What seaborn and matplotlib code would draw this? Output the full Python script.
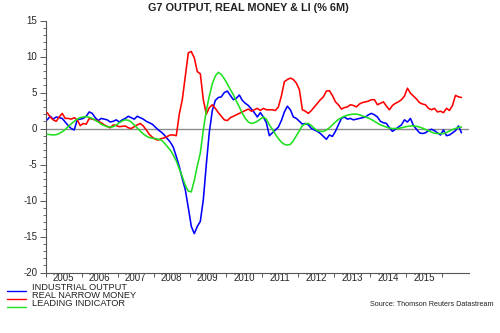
import numpy as np
import pandas as pd
import matplotlib
matplotlib.use("Agg")
import matplotlib.pyplot as plt
from matplotlib.lines import Line2D
from matplotlib.ticker import MultipleLocator, FixedLocator
import seaborn as sns

# ---- data (monthly, Jan 2005 .. Jul 2016), % 6m ----
start_year = 2005
industrial_output = [
    1.2, 1.7, 1.3, 1.6, 1.5, 1.4, 0.9, 0.4, 0.0, -0.2, 1.2, 1.3,
    1.4, 1.7, 2.3, 2.1, 1.5, 1.1, 1.4, 1.3, 1.2, 0.9, 1.0, 1.2,
    0.9, 1.2, 1.4, 1.7, 1.5, 1.3, 1.7, 1.5, 1.3, 1.0, 0.8, 0.6,
    0.2, -0.2, -0.5, -0.9, -1.4, -1.9, -2.6, -3.9, -5.3, -7.0, -8.5, -11.0,
    -13.6, -14.6, -13.6, -12.9, -9.9, -5.0, -0.5, 2.5, 3.9, 4.3, 4.4, 5.0,
    5.2, 4.6, 4.0, 4.2, 4.65, 3.9, 3.5, 3.2, 2.7, 2.2, 1.6, 2.2,
    1.6, 0.8, -1.0, -0.6, -0.2, 0.2, 1.1, 2.3, 3.1, 2.6, 1.6, 1.4,
    1.0, 0.6, 0.7, 0.5, 0.0, -0.2, -0.4, -0.7, -1.1, -1.5, -0.9, -1.1,
    -0.4, 0.5, 1.4, 1.6, 1.3, 1.4, 1.2, 1.3, 1.4, 1.5, 1.6, 1.9,
    2.1, 1.9, 1.6, 1.0, 0.8, 0.7, 0.1, -0.4, -0.1, 0.2, 0.5, 1.2,
    0.9, 1.4, 0.4, -0.1, -0.6, -0.7, -0.6, -0.3, -0.1, -0.3, -0.6, -0.9,
    -0.2, -1.0, -0.9, -0.6, -0.3, 0.35, -0.6,
]
real_narrow_money = [
    2.2, 1.6, 1.2, 1.0, 1.6, 2.1, 1.4, 1.4, 1.3, 1.5, 1.2, 0.4,
    0.7, 0.6, 1.4, 1.3, 1.2, 1.0, 0.8, 0.5, 0.3, 0.1, 0.5, 0.4,
    0.25, 0.3, 0.35, 0.1, 0.0, 0.25, 0.5, 0.7, 0.35, -0.2, -0.8, -1.2,
    -1.5, -1.6, -1.4, -1.3, -1.1, -0.9, -0.9, -1.0, 2.0, 4.0, 7.2, 10.5,
    10.7, 9.8, 7.9, 7.6, 4.0, 2.0, 2.9, 3.3, 2.8, 2.2, 1.7, 1.2,
    1.1, 1.5, 1.7, 1.9, 2.1, 2.3, 2.5, 2.7, 2.4, 2.6, 2.8, 2.5,
    2.8, 2.6, 2.6, 2.6, 2.5, 3.0, 4.5, 6.5, 6.8, 7.0, 6.8, 6.3,
    5.4, 2.6, 2.4, 2.1, 2.5, 3.0, 3.5, 4.0, 4.4, 5.2, 5.25, 4.6,
    3.7, 3.3, 2.7, 2.9, 3.0, 3.3, 3.2, 3.0, 3.4, 3.6, 3.7, 3.8,
    4.0, 4.0, 3.3, 3.5, 3.7, 3.1, 2.6, 3.2, 3.5, 3.7, 4.0, 4.5,
    5.6, 4.9, 4.5, 4.1, 3.6, 3.4, 3.3, 2.8, 2.6, 2.8, 2.3, 2.4,
    2.2, 2.8, 2.5, 3.2, 4.6, 4.4, 4.3,
]
leading_indicator = [
    -0.8, -0.85, -0.9, -0.85, -0.7, -0.45, -0.15, 0.25, 0.65, 1.0, 1.3, 1.5,
    1.6, 1.65, 1.55, 1.4, 1.15, 0.9, 0.6, 0.4, 0.25, 0.2, 0.25, 0.5,
    0.8, 1.05, 1.2, 1.15, 0.9, 0.5, 0.05, -0.35, -0.75, -1.05, -1.25, -1.35,
    -1.4, -1.5, -1.6, -2.0, -2.5, -3.0, -3.7, -4.5, -5.6, -6.7, -7.9, -8.7,
    -8.8, -7.2, -5.2, -3.4, -0.2, 2.5, 4.5, 6.2, 7.3, 7.8, 7.5, 6.9,
    6.2, 5.4, 4.7, 3.8, 3.0, 2.1, 1.4, 0.9, 0.7, 0.8, 1.0, 1.3,
    1.6, 1.3, 0.5, -0.1, -0.8, -1.4, -1.9, -2.2, -2.3, -2.2, -1.7, -1.0,
    -0.3, 0.4, 0.65, 0.7, 0.4, 0.0, -0.3, -0.4, -0.4, -0.2, 0.1, 0.5,
    0.9, 1.25, 1.5, 1.7, 1.85, 1.95, 2.0, 2.0, 1.9, 1.75, 1.6, 1.45,
    1.25, 1.0, 0.75, 0.5, 0.35, 0.2, 0.05, 0.0, 0.0, 0.0, 0.1, 0.2,
    0.3, 0.35, 0.35, 0.3, 0.2, 0.05, -0.15, -0.3, -0.5, -0.65, -0.7, -0.7,
    -0.7, -0.55, -0.35, -0.15, 0.0, 0.15, 0.2,
]
series_names = ["INDUSTRIAL OUTPUT", "REAL NARROW MONEY", "LEADING INDICATOR"]
series_colors = ["#0000FF", "#FF0000", "#1EE01E"]
year_labels = [str(y) for y in range(2005, 2016)]
y_ticks = [-20, -15, -10, -5, 0, 5, 10, 15]

n = len(industrial_output)
t = start_year + (np.arange(n) + 0.5) / 12.0
df = pd.DataFrame({
    "t": np.concatenate([t, t, t]),
    "value": industrial_output + real_narrow_money + leading_indicator,
    "series": np.repeat(series_names, n),
})

sns.set_theme(style="white")
plt.rcParams["font.family"] = ["Liberation Sans", "DejaVu Sans"]

W, H = 500, 333
fig = plt.figure(figsize=(W / 100, H / 100), dpi=100)
x0, x1, ytop, ybot = 45.7, 469.0, 20.5, 272.5
ax = fig.add_axes([x0 / W, 1 - ybot / H, (x1 - x0) / W, (ybot - ytop) / H])
ax.set_facecolor("white")

ax.axhline(0, color="#8c8c8c", lw=1.0, zorder=1)
sns.lineplot(data=df, x="t", y="value", hue="series", hue_order=series_names,
             palette=series_colors, linewidth=1.15, legend=False, ax=ax,
             zorder=3)

ax.set_xlim(2005, 2016.75)
ax.set_ylim(-20, 15)
ax.set_xlabel("")
ax.set_ylabel("")

for s in ["top", "right"]:
    ax.spines[s].set_visible(False)
for s in ["left", "bottom"]:
    ax.spines[s].set_color("#555555")
    ax.spines[s].set_linewidth(0.8)

ax.yaxis.set_major_locator(FixedLocator(y_ticks))
ax.yaxis.set_minor_locator(MultipleLocator(1))
ax.set_yticklabels([str(v) for v in y_ticks])
ax.tick_params(axis="y", which="major", direction="out", length=4, width=0.7,
               color="#555555", labelsize=7, pad=2, left=True)
ax.tick_params(axis="y", which="minor", direction="out", length=2, width=0.6,
               color="#555555", left=True)

ax.xaxis.set_major_locator(FixedLocator(np.arange(2005, 2017)))
ax.xaxis.set_major_formatter(plt.NullFormatter())
ax.set_xticks(np.arange(2005, 2016) + 0.5, minor=True)
ax.set_xticklabels(year_labels, minor=True)
ax.tick_params(axis="x", which="major", direction="out", length=3, width=0.7,
               color="#555555", bottom=True)
ax.tick_params(axis="x", which="minor", length=0, labelsize=7, pad=0.3)
ax.grid(False)

fig.text(248 / W, 1 - 8 / H, "G7 OUTPUT, REAL MONEY & LI (% 6M)",
         ha="center", va="center", fontsize=7.8, fontweight="bold", color="#222222")

# legend
leg_y = [290.5, 298.8, 307.2]
txt_y = [287, 295.3, 303.6]
for name, col, ly, ty in zip(series_names, series_colors, leg_y, txt_y):
    fig.add_artist(Line2D([7 / W, 26 / W], [1 - ly / H, 1 - ly / H],
                          color=col, lw=1.0, transform=fig.transFigure))
    fig.text(32 / W, 1 - ty / H, name, ha="left", va="center",
             fontsize=6.7, color="#222222")

fig.text(494 / W, 1 - 304 / H, "Source: Thomson Reuters Datastream",
         ha="right", va="center", fontsize=5.2, color="#222222")

fig.savefig("out.png", dpi=100, facecolor="white")
